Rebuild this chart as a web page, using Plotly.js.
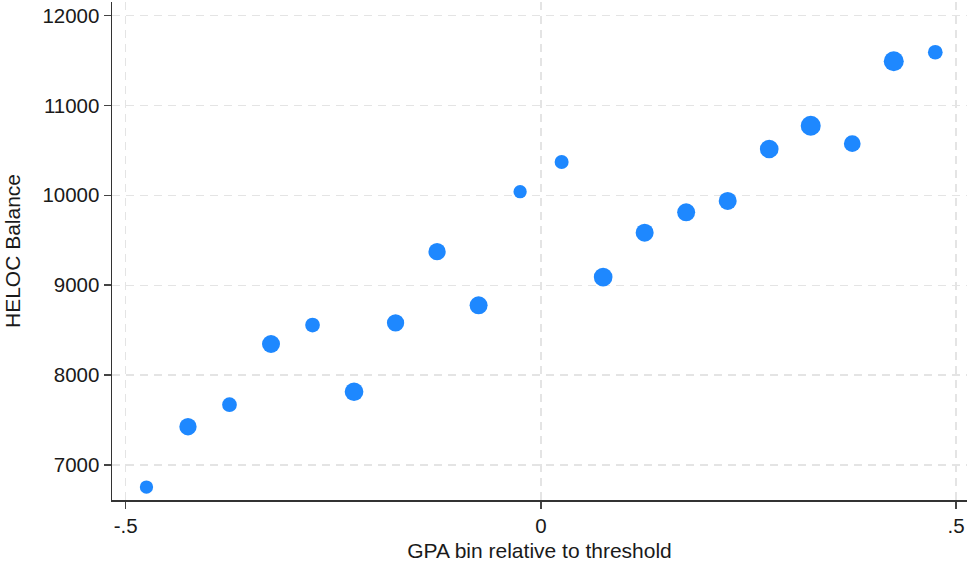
<!DOCTYPE html>
<html>
<head>
<meta charset="utf-8">
<script src="https://cdn.plot.ly/plotly-3.0.1.min.js"></script>
<style>
  html, body { margin: 0; padding: 0; background: #ffffff; }
  #chart { width: 967px; height: 565px; }
</style>
</head>
<body>
<div id="chart"></div>
<script>
// GPA bins (bin centres, relative to the threshold)
const gpaBin = [-0.475, -0.425, -0.375, -0.325, -0.275, -0.225, -0.175, -0.125, -0.075, -0.025,
                 0.025,  0.075,  0.125,  0.175,  0.225,  0.275,  0.325,  0.375,  0.425,  0.475];

// Mean HELOC balance in each bin
const helocBalance = [6755, 7426, 7671, 8346, 8557, 7815, 8580, 9373, 8776, 10040,
                      10370, 9091, 9584, 9811, 9937, 10515, 10774, 10574, 11491, 11591];

// Dot diameter per bin (weighted by bin size)
const dotSize = [13.3, 17.3, 14.7, 18, 14.7, 18.7, 17.3, 17.3, 18, 13.3,
                 14, 18.7, 18, 18, 18, 18.7, 20, 16.7, 20, 14.7];

const xTickVals = [-0.5, 0, 0.5];
const xTickText = ['-.5', '0', '.5'];
const yTickVals = [7000, 8000, 9000, 10000, 11000, 12000];
const yTickText = ['7000', '8000', '9000', '10000', '11000', '12000'];

const gridStyle = {
  showgrid: true,
  gridcolor: '#e4e4e4',
  gridwidth: 1.3,
  griddash: '8px,6px'
};

const trace = {
  type: 'scatter',
  mode: 'markers',
  x: gpaBin,
  y: helocBalance,
  marker: {
    color: '#1e88ff',
    opacity: 1,
    size: dotSize,
    line: { width: 0 }
  },
  hoverinfo: 'x+y'
};

const textColor = '#1a1a1a';

const layout = {
  width: 967,
  height: 565,
  margin: { l: 112, r: 0, t: 2, b: 65 },
  paper_bgcolor: '#ffffff',
  plot_bgcolor: '#ffffff',
  showlegend: false,
  font: { family: '"Liberation Sans", Arial, sans-serif', size: 21, color: textColor },
  xaxis: Object.assign({
    range: [-0.5165, 0.5132],
    tickvals: xTickVals,
    ticktext: xTickText,
    ticks: 'outside',
    ticklen: 7,
    tickwidth: 1.5,
    tickcolor: '#444444',
    showline: true,
    linecolor: '#333333',
    linewidth: 1.5,
    zeroline: false,
    tickfont: { size: 20.5, color: textColor },
    title: { text: 'GPA bin relative to threshold', font: { size: 21, color: textColor }, standoff: 7 }
  }, gridStyle),
  yaxis: Object.assign({
    range: [6611, 12150],
    tickvals: yTickVals,
    ticktext: yTickText,
    ticks: 'outside',
    ticklen: 7,
    tickwidth: 1.5,
    tickcolor: '#444444',
    showline: true,
    linecolor: '#333333',
    linewidth: 1.5,
    zeroline: false,
    tickfont: { size: 20.5, color: textColor },
    title: { text: 'HELOC Balance', font: { size: 21, color: textColor }, standoff: 16 }
  }, gridStyle)
};

Plotly.newPlot('chart', [trace], layout, { displayModeBar: false, staticPlot: true });
</script>
</body>
</html>
